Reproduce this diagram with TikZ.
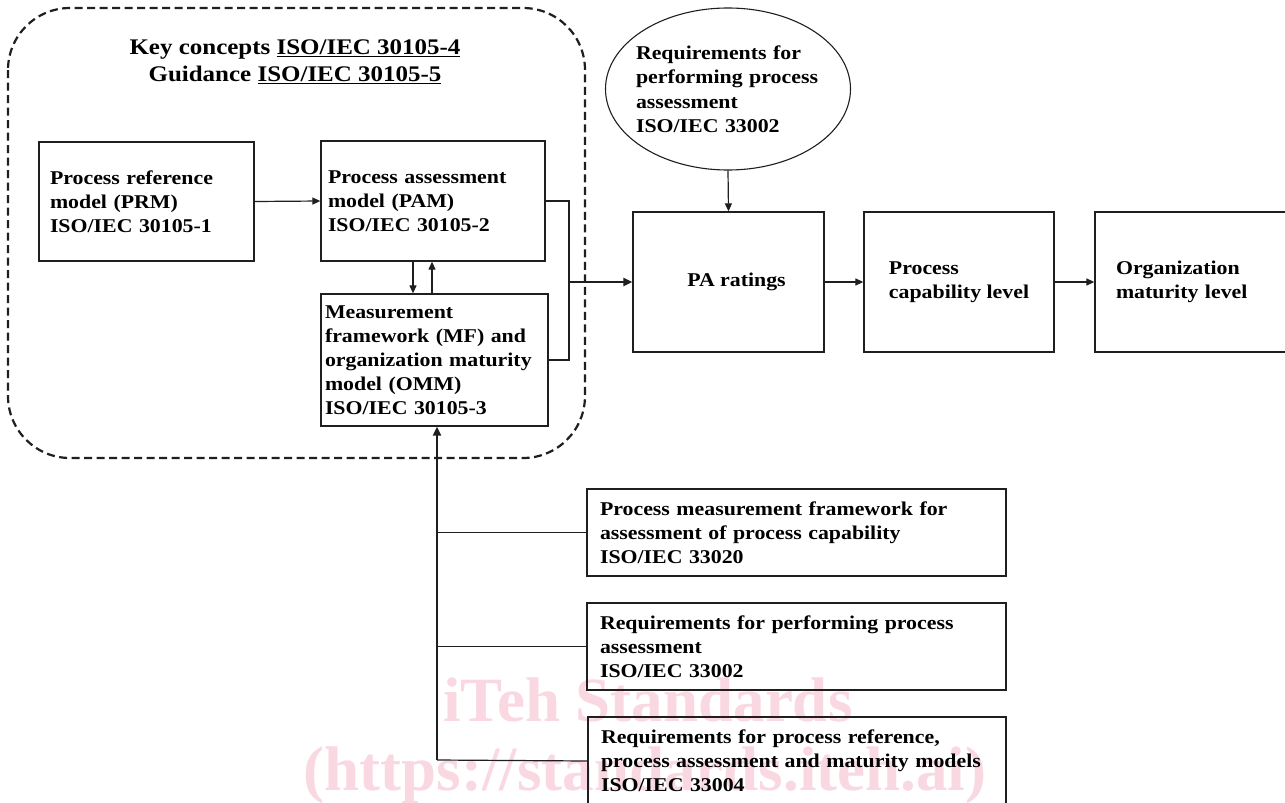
\documentclass[tikz,border=0pt]{standalone}
\usepackage{fontspec}
\setmainfont{Liberation Serif}[FakeStretch=1.12]
\newfontfamily\wmfont{Liberation Serif}
\usetikzlibrary{arrows.meta,shapes.geometric}
\definecolor{wm}{RGB}{250,216,225}
\begin{document}
\begin{tikzpicture}[x=1pt,y=-1pt,
  bx/.style={draw=black!88, line width=1.3pt, rectangle, inner sep=0pt,
    align=left, font=\bfseries\fontsize{19.5}{24}\selectfont},
  ell/.style={draw=black!88, line width=1.1pt, ellipse, inner xsep=-8pt, inner ysep=0pt,
    align=left, font=\bfseries\fontsize{19.5}{24.5}\selectfont},
  arr/.style={draw=black!88, line width=1.2pt, -{Triangle[length=8pt,width=7pt]}},
  ln/.style={draw=black!88, line width=1.2pt},
  wmk/.style={text=wm, font=\wmfont\bfseries\fontsize{63}{64}\selectfont}
]
\useasboundingbox (0,0) rectangle (1285,803);
\fill[white] (0,0) rectangle (1285,803);
% watermark
\node[wmk] (wm1) at (648,700) {iTeh Standards};
\node[wmk] (wm2) at (645,775) {(https://standards.iteh.ai)};
% dashed frame
\draw[line width=2.2pt, dash pattern=on 8pt off 4.5pt, rounded corners=62pt, draw=black!88]
  (8,8) rectangle (585,458);
\node[align=center, font=\bfseries\fontsize{22.3}{27}\selectfont] (title) at (295,62)
  {Key concepts \underline{ISO/IEC 30105-4}\\Guidance \underline{ISO/IEC 30105-5}};
% boxes
\node[bx, minimum width=215, minimum height=119, text width=193] (prm) at (146.5,201.5)
  {Process reference\\model (PRM)\\ISO/IEC 30105-1};
\node[bx, minimum width=224, minimum height=120, text width=210] (pam) at (433,201)
  {Process assessment\\model (PAM)\\ISO/IEC 30105-2};
\node[bx, minimum width=227, minimum height=132, text width=219] (mf) at (434.5,360)
  {Measurement\\framework (MF) and\\organization maturity\\model (OMM)\\ISO/IEC 30105-3};
\node[ell, minimum width=245, minimum height=162, text width=184] (req) at (728,89)
  {Requirements for\\performing process\\assessment\\ISO/IEC 33002};
\node[bx, minimum width=191, minimum height=140, align=center] (pa) at (728.5,282) {\hspace*{16pt}PA ratings};
\node[bx, minimum width=190, minimum height=140] (cap) at (959,282) {Process\\capability level};
\node[bx, minimum width=192, minimum height=140, text width=150] (org) at (1191,282) {Organization\\maturity level};
\node[bx, minimum width=419, minimum height=87, text width=393] (b1) at (796.5,532.5)
  {Process measurement framework for\\assessment of process capability\\ISO/IEC 33020};
\node[bx, minimum width=419, minimum height=87, text width=393] (b2) at (796.5,646.5)
  {Requirements for performing process\\assessment\\ISO/IEC 33002};
\node[bx, minimum width=418, minimum height=88, text width=392] (b3) at (797,761)
  {Requirements for process reference,\\process assessment and maturity models\\ISO/IEC 33004};
% connectors
\draw[arr] (prm.east) -- (pam.west);
\draw[arr] ([xshift=-20pt]pam.south) -- ([xshift=-20pt]pam.south |- mf.north);
\draw[arr] ([xshift=-1pt]mf.north -| pam.south) -- ([xshift=-1pt]pam.south);
\coordinate (j) at (569,282);
\draw[ln] (pam.east) -| (j) |- (mf.east);
\draw[line width=2.4pt, draw=black!88, -{Triangle[length=9pt,width=8pt]}] (j) -- (pa.west);
\draw[arr] (req.south) -- (pa.north);
\draw[arr] (pa.east) -- (cap.west);
\draw[arr] (cap.east) -- (org.west);
\coordinate (bot) at (437,760);
\draw[line width=2pt, draw=black!88, -{Triangle[length=9pt,width=8pt]}] (bot) -- (bot |- mf.south);
\draw[ln] (bot |- b1.west) -- (b1.west);
\draw[ln] (bot |- b2.west) -- (b2.west);
\draw[ln] (bot) -- (b3.west);
\end{tikzpicture}
\end{document}
